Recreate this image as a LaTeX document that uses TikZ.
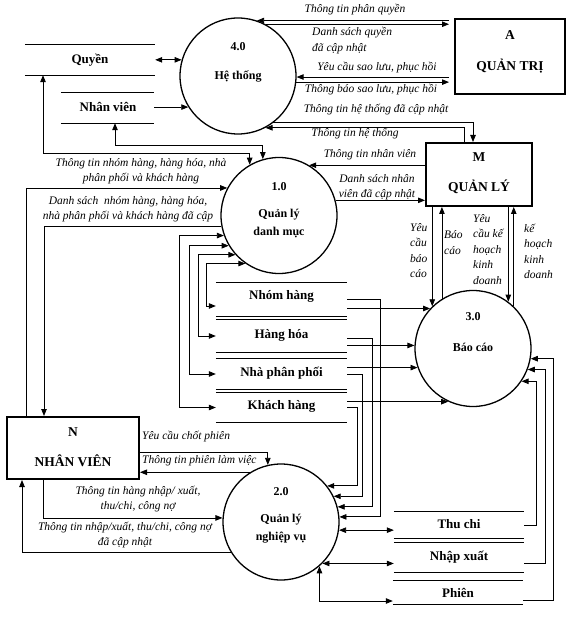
\documentclass[tikz,border=0pt]{standalone}
\usepackage{fontspec}
\setmainfont{Liberation Serif}
\usetikzlibrary{arrows.meta,calc}
\begin{document}
\begin{tikzpicture}[x=1pt,y=-1pt,
  every node/.style={inner sep=0pt},
  proc/.style={circle,draw,line width=1.3pt,minimum size=116pt},
  ent/.style={draw,line width=2pt},
  boxtext/.style={font=\fontsize{13.5}{16}\selectfont\bfseries},
  proctext/.style={font=\fontsize{12}{14}\selectfont\bfseries},
  storetext/.style={font=\fontsize{13}{15}\selectfont\bfseries},
  lbl/.style={font=\fontsize{11.5}{15}\selectfont\itshape,align=center},
  lbll/.style={font=\fontsize{11.5}{15.5}\selectfont\itshape,align=left,anchor=west},
  sline/.style={line width=0.8pt},
  conn/.style={line width=0.8pt,-{Triangle[length=7pt,width=5.5pt]}},
  dconn/.style={line width=0.8pt,{Triangle[length=7pt,width=5.5pt]}-{Triangle[length=7pt,width=5.5pt]}},
]
\useasboundingbox (0,0) rectangle (584,617);

% processes
\node[proc] (c4) at (238,76) {};
\node[proctext] (c4a) at (238,47) {4.0};
\node[proctext] (c4b) at (238,76) {Hệ thống};
\node[proc] (c1) at (279,215.5) {};
\node[proctext] (c1a) at (279,187) {1.0};
\node[proctext] (c1b) at (279,215) {Quản lý};
\node[proctext] (c1c) at (279,233) {danh mục};
\node[proc] (c3) at (473,348.5) {};
\node[proctext] (c3a) at (473,317) {3.0};
\node[proctext] (c3b) at (473,347) {Báo cáo};
\node[proc] (c2) at (281,522) {};
\node[proctext] (c2a) at (281,492) {2.0};
\node[proctext] (c2b) at (281,520) {Quản lý};
\node[proctext] (c2c) at (281,538) {nghiệp vụ};

% external entities
\node[ent,minimum width=110pt,minimum height=75pt] (A) at (510,56.5) {};
\node[boxtext] (Aa) at (510,35) {A};
\node[boxtext] (Ab) at (510,66) {QUẢN TRỊ};
\node[ent,minimum width=106pt,minimum height=63pt] (M) at (479,174.5) {};
\node[boxtext] (Ma) at (479,157) {M};
\node[boxtext] (Mb) at (479,187) {QUẢN LÝ};
\node[ent,minimum width=132pt,minimum height=62pt] (N) at (73,448) {};
\node[boxtext] (Na) at (73,432) {N};
\node[boxtext] (Nb) at (73,461) {NHÂN VIÊN};

% data stores
\node[minimum width=130pt,minimum height=30pt] (sQ) at (90,60) {};
\node[storetext] (sQt) at (90,60) {Quyền};
\node[minimum width=93pt,minimum height=30pt] (sNV) at (107.5,108) {};
\node[storetext] (sNVt) at (108,107) {Nhân viên};
\node[minimum width=131pt,minimum height=33pt] (sNH) at (281.5,299.5) {};
\node[storetext] (sNHt) at (281.5,296) {Nhóm hàng};
\node[minimum width=131pt,minimum height=32pt] (sHH) at (281.5,336) {};
\node[storetext] (sHHt) at (281.5,335) {Hàng hóa};
\node[minimum width=131pt,minimum height=30pt] (sNPP) at (281.5,374) {};
\node[storetext] (sNPPt) at (281.5,373) {Nhà phân phối};
\node[minimum width=131pt,minimum height=29pt] (sKH) at (281.5,407.5) {};
\node[storetext] (sKHt) at (281.5,406) {Khách hàng};
\node[minimum width=130pt,minimum height=26pt] (sTC) at (459,525) {};
\node[storetext] (sTCt) at (459,524) {Thu chi};
\node[minimum width=130pt,minimum height=29pt] (sNX) at (459,557.5) {};
\node[storetext] (sNXt) at (459,557) {Nhập xuất};
\node[minimum width=130pt,minimum height=23pt] (sP) at (458,592.5) {};
\node[storetext] (sPt) at (458,593) {Phiên};
\foreach \s in {sQ,sNV,sNH,sHH,sNPP,sKH,sTC,sNX,sP}{
  \draw[sline] (\s.north west) -- (\s.north east) (\s.south west) -- (\s.south east);
}

\coordinate (Aw) at ([xshift=-5pt]A.west);

% 4.0 connectors
\draw[dconn] (c4.164 -| sQ.east) -- (c4.164);
\draw[conn] (c4.212 -| sNV.east) -- (c4.212);
\draw[conn] (c4.71 -| Aw) -- (c4.71);
\draw[conn] (c4.62) -- (c4.62 -| Aw);
\draw[conn] (c4.359 -| Aw) -- (c4.359);
\draw[conn] (c4.354) -- (c4.354 -| Aw);
\draw[conn] (c4.307) -| ([xshift=-6pt]M.north);
\draw[conn] ([xshift=-15pt]M.north) |- (c4.298);

% 1.0 connectors
\draw[dconn] (sQ.south -| 43,0) |- (c1.120 |- 0,153) -- (c1.120);
\draw[dconn] (sNV.south -| 115,0) |- (c1.106 |- 0,145) -- (c1.106);
\draw[conn] (N.north -| 26,0) |- (c1.152);
\draw[conn] (c1.191) -| (N.north -| 44,0);
\draw[conn] (c1.59 -| M.west) -- (c1.59);
\draw[conn] (c1.15) -- (c1.15 -| M.west);
\draw[dconn] (c1.200) -- (c1.200 -| 179,0) |- (sKH.west);
\draw[dconn] (c1.211) -- (c1.211 -| 189,0) |- (sNPP.west);
\draw[dconn] (c1.222) -- (c1.222 -| 198,0) |- (sHH.west);
\draw[dconn] (c1.235) -- (c1.235 -| 206,0) |- ([yshift=-6.5pt]sNH.west);

% 3.0 connectors
\draw[conn] (c3.134 |- M.south) -- (c3.134);
\draw[conn] (c3.122) -- (c3.122 |- M.south);
\draw[conn] (c3.53 |- M.south) -- (c3.53);
\draw[conn] (c3.46) -- (c3.46 |- M.south);
\draw[conn] (c3.137 -| sNH.east) -- (c3.137);
\draw[conn] (c3.177 -| sHH.east) -- (c3.177);
\draw[conn] (c3.199 -| sNPP.east) -- (c3.199);
\draw[conn] (c3.245 -| sKH.east) -- (c3.245);
\draw[conn] (sTC.east) -| (c3.326 -| 536,0) -- (c3.326);
\draw[conn] ([yshift=-5.5pt]sNX.east) -| (c3.339 -| 545,0) -- (c3.339);
\draw[conn] ([yshift=-8pt]sP.east) -| (c3.350 -| 553,0) -- (c3.350);

% 2.0 connectors
\draw[conn] (sNH.east) -| (c2.5 -| 380,0) -- (c2.5);
\draw[conn] ([yshift=-2pt]sHH.east) -| (c2.15 -| 372,0) -- (c2.15);
\draw[conn] (sNPP.east) -| (c2.26 -| 362,0) -- (c2.26);
\draw[conn] (sKH.east) -| (c2.38 -| 357,0) -- (c2.38);
\draw[dconn] (c2.352) -- (c2.352 -| sTC.west);
\draw[dconn] (c2.315) -- (c2.315 -| sNX.west);
\draw[dconn] (c2.311) |- ([yshift=-8.5pt]sP.west);
\draw[conn] (N.east |- 0,452) -| (c2.103);
\draw[conn] (c2.122) -- (c2.122 -| N.east);
\draw[conn] (N.south -| 43,0) |- (c2.176);
\draw[conn] (c2.211) -| (N.south -| 22,0);

% labels
\node[lbl] (l1) at (355,10) {Thông tin phân quyền};
\node[lbll] (l2) at (312,40.5) {Danh sách quyền\\đã cập nhật};
\node[lbl] (l3) at (377,68) {Yêu cầu sao lưu, phục hồi};
\node[lbl] (l4) at (371,90) {Thông báo sao lưu, phục hồi};
\node[lbl] (l5) at (376,110) {Thông tin hệ thống đã cập nhật};
\node[lbl] (l6) at (355,134) {Thông tin hệ thống};
\node[lbl] (l7) at (370,155) {Thông tin nhân viên};
\node[lbl] (l8) at (377,187.5) {Danh sách nhân\\viên đã cập nhật};
\node[lbl] (l9) at (141,171.5) {Thông tin nhóm hàng, hàng hóa, nhà\\phân phối và khách hàng};
\node[lbl] (l10) at (128,209) {Danh sách\ \ nhóm hàng, hàng hóa,\\nhà phân phối và khách hàng đã cập};
\node[lbll] (l11) at (410,250.5) {Yêu\\cầu\\báo\\cáo};
\node[lbll] (l12) at (444,242.5) {Báo\\cáo};
\node[lbll] (l13) at (473,249.5) {Yêu\\cầu kế\\hoạch\\kinh\\doanh};
\node[lbll] (l14) at (524,251.5) {kế\\hoạch\\kinh\\doanh};
\node[lbll] (l15) at (142,437) {Yêu cầu chốt phiên};
\node[lbll] (l16) at (142,461) {Thông tin phiên làm việc};
\node[lbl] (l17) at (138,499) {Thông tin hàng nhập/ xuất,\\thu/chi, công nợ};
\node[lbl] (l18) at (125,535.5) {Thông tin nhập/xuất, thu/chi, công nợ\\đã cập nhật};
\end{tikzpicture}
\end{document}
